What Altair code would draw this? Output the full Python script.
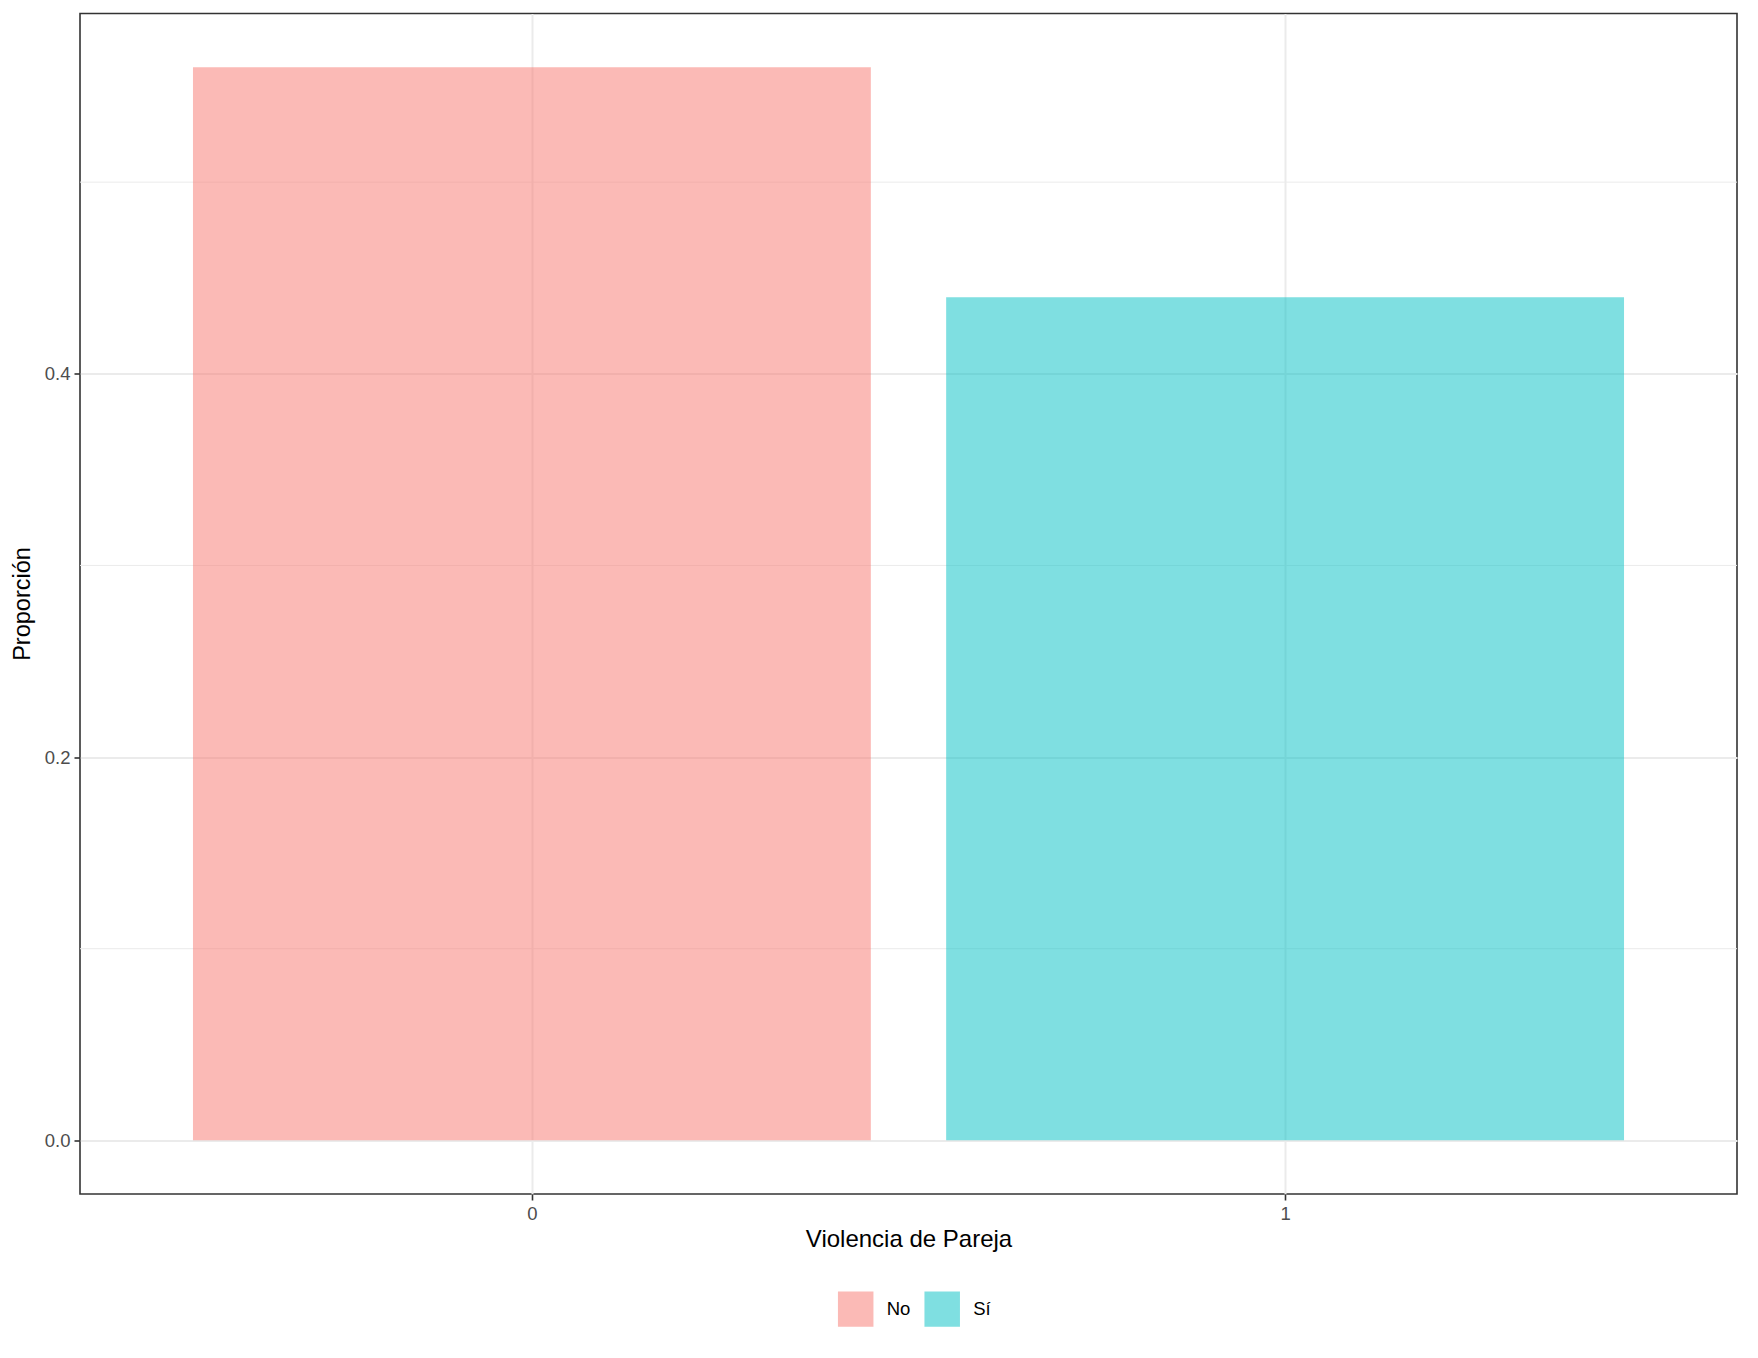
import altair as alt
import pandas as pd

# Data
categories = [0, 1]
groups = ["No", "Sí"]
proportions = [0.56, 0.44]
colors = ["#F8766D", "#00BFC4"]
y_major = [0.0, 0.2, 0.4]
y_minor = [0.1, 0.3, 0.5]

bars_df = pd.DataFrame({"pos": categories, "grupo": groups, "prop": proportions})
minor_df = pd.DataFrame({"v": y_minor})

FONT = "Liberation Sans"
xscale = alt.Scale(domain=[-0.6, 1.6], nice=False, zero=False)
yscale = alt.Scale(domain=[-0.028, 0.588], nice=False, zero=False)

yaxis = alt.Axis(values=y_major, format=".1f", title="Proporción",
                 grid=True, gridColor="#EBEBEB", gridWidth=2,
                 domain=False, tickColor="#333333", tickWidth=1.6, tickSize=6,
                 labelColor="#4D4D4D", labelFontSize=18.5, labelPadding=4,
                 labelFont=FONT, titleFont=FONT, titleFontSize=23.5,
                 titleFontWeight="normal", titleColor="#000000",
                 titleAngle=270, titleBaseline="alphabetic",
                 titleX=-51, titleY=590, titleAlign="center")

minor = alt.Chart(minor_df).mark_rule(color="#EBEBEB", strokeWidth=1).encode(
    y=alt.Y("v:Q", scale=yscale, axis=yaxis)
)

bars = alt.Chart(bars_df).transform_calculate(
    x0="datum.pos - 0.45", x1="datum.pos + 0.45"
).mark_bar(opacity=0.5, cornerRadius=0).encode(
    x=alt.X("x0:Q", scale=xscale,
            axis=alt.Axis(values=categories, format="d", title="Violencia de Pareja",
                          grid=True, gridColor="#EBEBEB", gridWidth=2,
                          domain=False, tickColor="#333333", tickWidth=1.6, tickSize=6,
                          labelColor="#4D4D4D", labelFontSize=18.5, labelPadding=4,
                          labelFont=FONT, titleFont=FONT, titleFontSize=24,
                          titleFontWeight="normal", titleColor="#000000",
                          titleBaseline="alphabetic", titleY=52.5, titleX=828.5,
                          titleAlign="center")),
    x2="x1:Q",
    y=alt.Y("prop:Q", scale=yscale, axis=yaxis),
    y2=alt.datum(0),
    color=alt.Color("grupo:N", scale=alt.Scale(domain=groups, range=colors),
                    legend=alt.Legend(title=None, orient="none", direction="horizontal",
                                      legendX=757.7, legendY=1277.5, padding=0,
                                      symbolType="square", symbolSize=1260,
                                      symbolStrokeWidth=0, symbolOpacity=0.5,
                                      labelFont=FONT, labelFontSize=18.5,
                                      labelColor="#000000", labelOffset=13,
                                      columnPadding=13.5)),
)

chart = alt.layer(minor, bars).properties(
    width=1657, height=1180.5,
    autosize=alt.AutoSizeParams(type="none"),
    padding={"left": 72, "top": 5.5, "right": 5, "bottom": 150},
    view=alt.ViewBackground(stroke="#333333", strokeWidth=1.6, fill="white"),
).configure_view(
    stroke="#333333", strokeWidth=1.6, fill="white"
).configure(background="white")

chart.save("out.html", embed_options={"renderer": "svg", "actions": False})
